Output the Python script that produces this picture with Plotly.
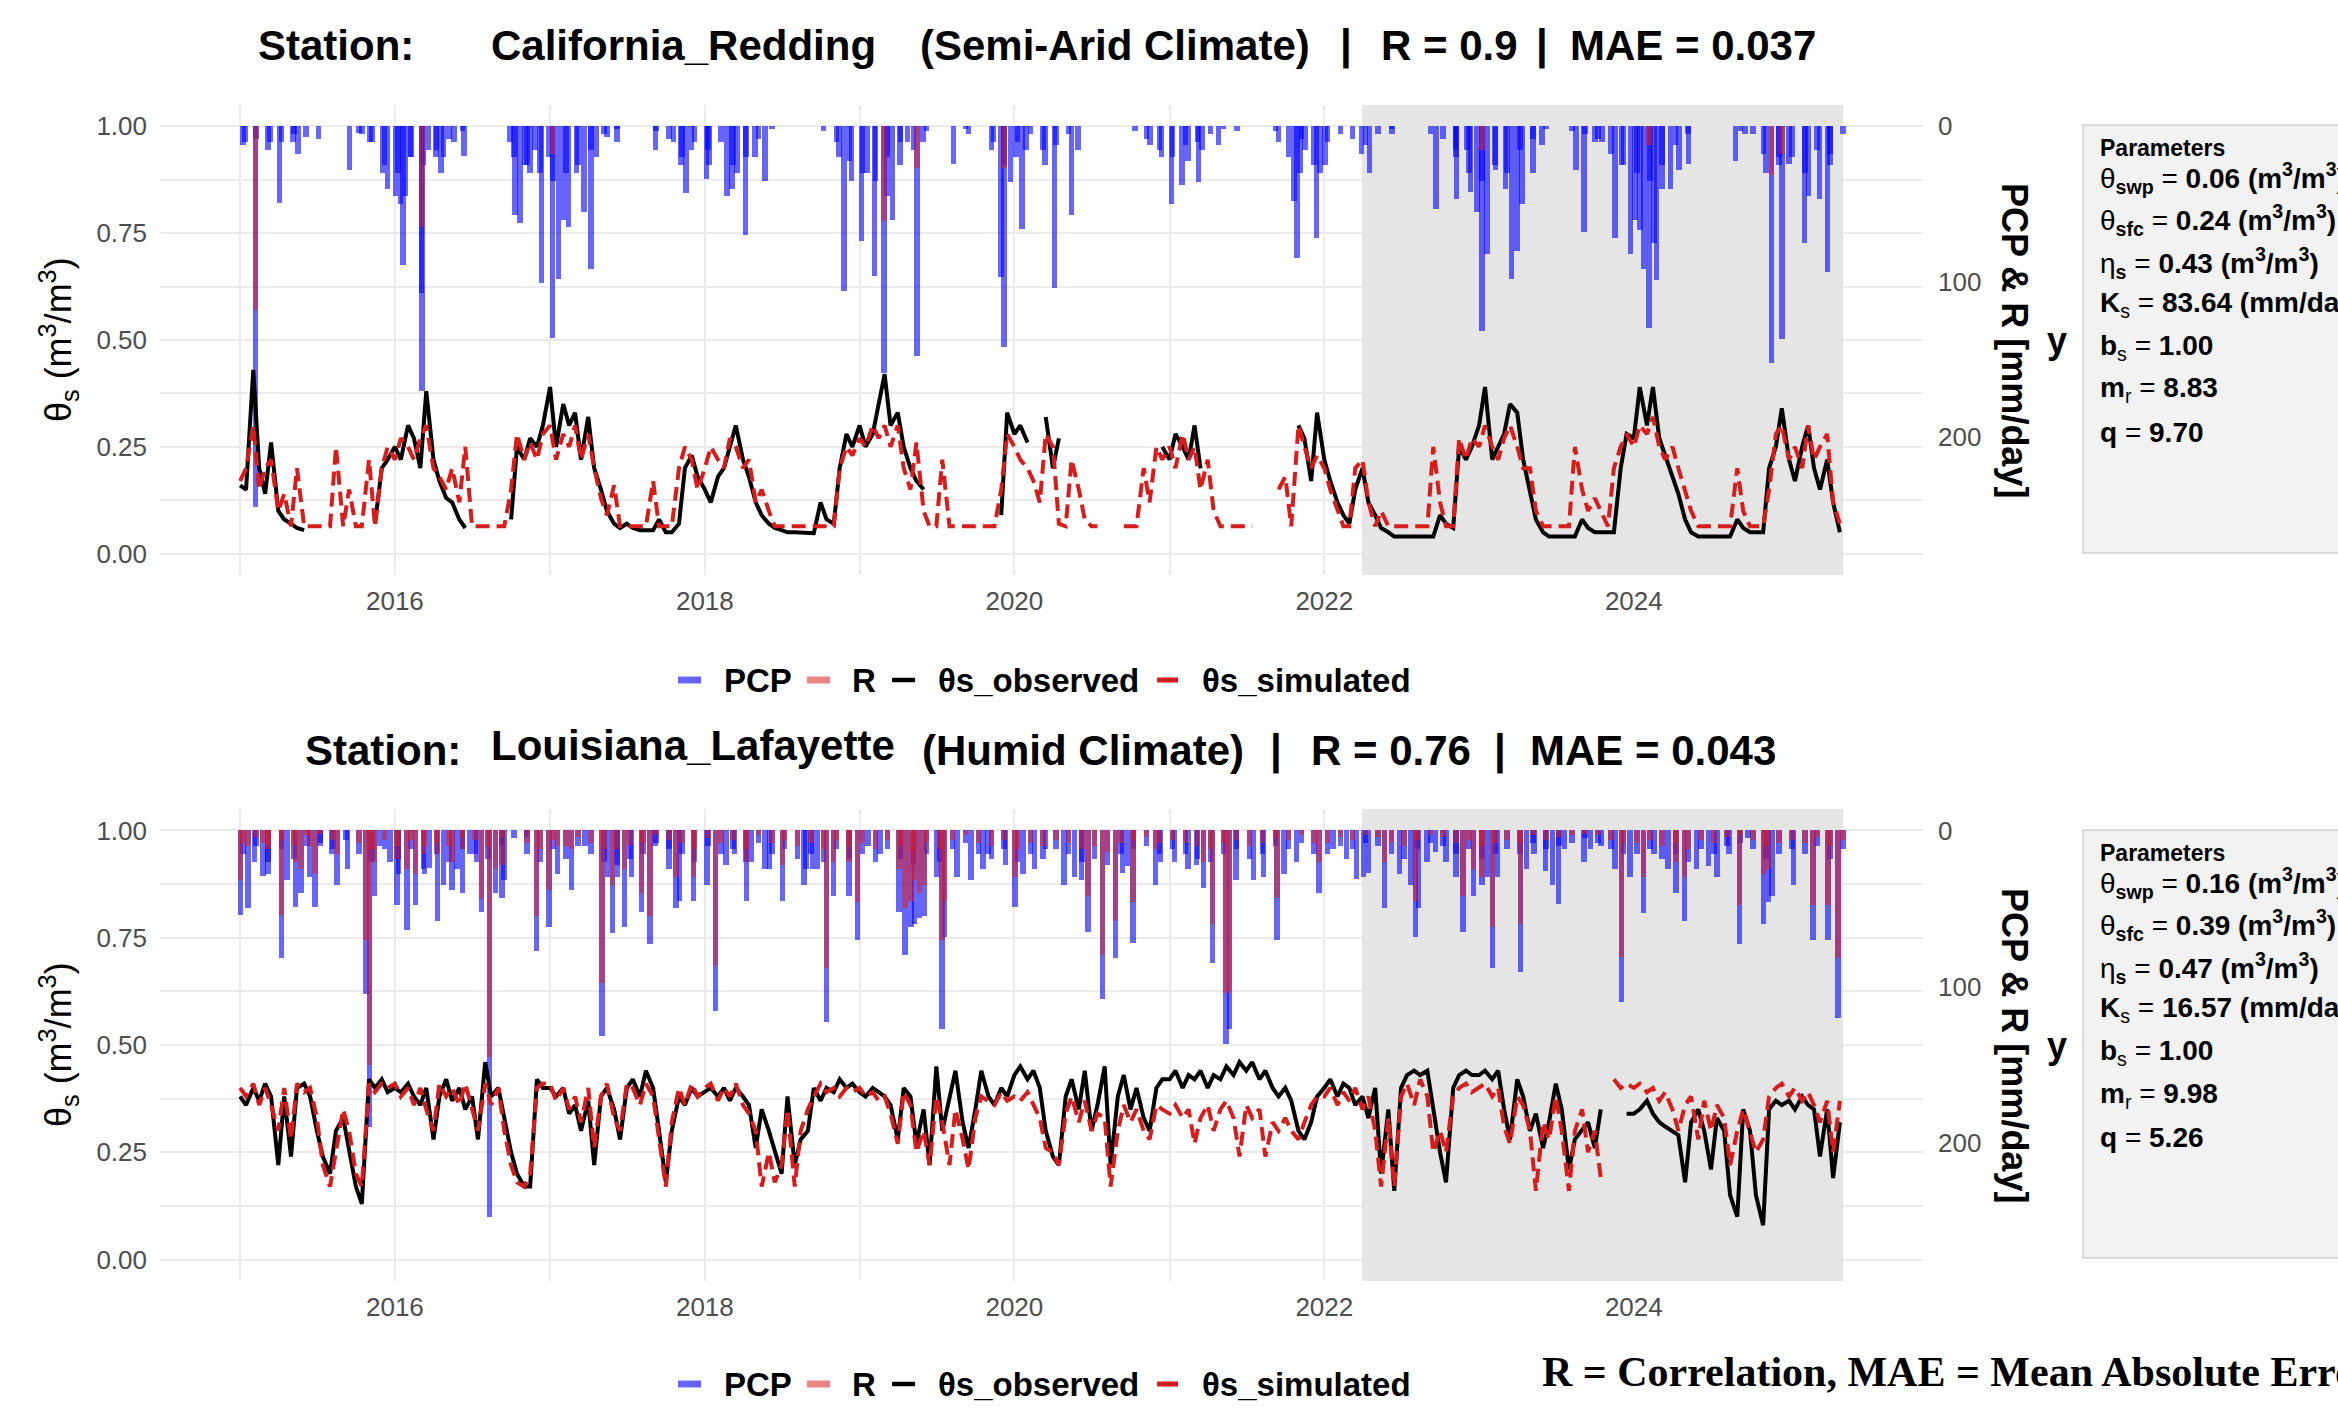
import pandas as pd
import plotly.graph_objects as go

N = None
W, H = 2338, 1412
SANS = "Liberation Sans, Arial, Helvetica, sans-serif"
SERIF = "Liberation Serif, Times New Roman, serif"

# ---------------------------------------------------------------- data
line_dates = pd.date_range("2015-01-01", "2025-05-01", freq="SMS")          # 1st & 15th of each month
small_dates = pd.date_range("2015-01-01", "2025-05-01", freq="MS") + pd.Timedelta(days=7)
data_start, data_end = "2015-01-01", "2025-05-08"
calib_start = "2022-04-01"

stations = ["California_Redding", "Louisiana_Lafayette"]
climates = ["(Semi-Arid Climate)", "(Humid Climate)"]
r_values = ["0.9", "0.76"]
mae_values = ["0.037", "0.043"]
legend_items = ["PCP", "R", "θs_observed", "θs_simulated"]

param_labels = ["θ<sub><b>swp</b></sub>", "θ<sub><b>sfc</b></sub>", "η<sub><b>s</b></sub>",
                "<b>K</b><sub>s</sub>", "<b>b</b><sub>s</sub>", "<b>m</b><sub>r</sub>", "<b>q</b>"]
param_units = [" (m<sup>3</sup>/m<sup>3</sup>)"] * 3 + [" (mm/day)", "", "", ""]
ca_params = ["0.06", "0.24", "0.43", "83.64", "1.00", "8.83", "9.70"]
la_params = ["0.16", "0.39", "0.47", "16.57", "1.00", "9.98", "5.26"]

# ---- California_Redding soil moisture (semi-monthly)
ca_obs = (
    [0.16, 0.15, 0.43, 0.20, 0.14, 0.26, 0.10, 0.08, 0.07, 0.06, 0.055, N, N, N, N, N, N, N, N, N, N, 0.07, 0.20, 0.22]
    + [0.25, 0.22, 0.30, 0.27, 0.20, 0.38, 0.22, 0.17, 0.13, 0.12, 0.08, 0.06, N, N, N, N, N, N, 0.08, 0.25, 0.22, 0.27, 0.25, 0.30]
    + [0.39, 0.25, 0.35, 0.30, 0.33, 0.22, 0.32, 0.20, 0.15, 0.10, 0.07, 0.06, 0.07, 0.06, 0.055, 0.055, 0.055, 0.08, 0.05, 0.05, 0.07, 0.20, 0.23, 0.18]
    + [0.15, 0.12, 0.18, 0.20, 0.25, 0.30, 0.22, 0.18, 0.12, 0.09, 0.07, 0.06, 0.055, 0.05, 0.05, 0.05, 0.048, 0.048, 0.12, 0.08, 0.07, 0.20, 0.28, 0.25]
    + [0.30, 0.25, 0.28, 0.35, 0.42, 0.30, 0.33, 0.25, 0.20, 0.17, 0.15, N, N, N, N, N, N, N, N, N, N, N, 0.09, 0.33]
    + [0.28, 0.30, 0.26, N, N, 0.32, 0.20, 0.27, N, N, N, N, N, N, N, N, N, N, N, N, N, N, N, 0.25]
    + [0.22, 0.28, 0.25, 0.22, 0.30, 0.20, N, N, N, N, N, N, N, N, N, N, N, N, N, N, 0.30, 0.27, 0.17, 0.33]
    + [0.22, 0.17, 0.12, 0.09, 0.07, 0.15, 0.20, 0.12, 0.09, 0.06, 0.05, 0.04, 0.04, 0.04, 0.04, 0.04, 0.04, 0.04, 0.09, 0.07, 0.06, 0.25, 0.22, 0.25]
    + [0.30, 0.39, 0.22, 0.25, 0.28, 0.35, 0.33, 0.22, 0.15, 0.08, 0.05, 0.04, 0.04, 0.04, 0.04, 0.04, 0.08, 0.06, 0.05, 0.05, 0.05, 0.05, 0.20, 0.28]
    + [0.27, 0.39, 0.30, 0.39, 0.27, 0.23, 0.18, 0.14, 0.08, 0.05, 0.04, 0.04, 0.04, 0.04, 0.04, 0.04, 0.08, 0.06, 0.05, 0.05, 0.05, 0.20, 0.25, 0.34]
    + [0.22, 0.17, 0.25, 0.30, 0.20, 0.15, 0.22, 0.12, 0.05]
)
ca_sim = (
    [0.17, 0.20, 0.30, 0.15, 0.20, 0.22, 0.10, 0.14, 0.064, 0.20, 0.064, 0.064, 0.064, 0.064, 0.064, 0.25, 0.064, 0.15, 0.064, 0.064, 0.22, 0.064, 0.20, 0.25]
    + [0.22, 0.27, 0.25, 0.22, 0.27, 0.30, 0.20, 0.18, 0.15, 0.20, 0.12, 0.25, 0.064, 0.064, 0.064, 0.064, 0.064, 0.064, 0.15, 0.28, 0.22, 0.26, 0.22, 0.28]
    + [0.30, 0.22, 0.28, 0.25, 0.30, 0.22, 0.28, 0.20, 0.13, 0.09, 0.16, 0.064, 0.064, 0.064, 0.064, 0.064, 0.17, 0.064, 0.064, 0.064, 0.20, 0.25, 0.22, 0.15]
    + [0.20, 0.25, 0.22, 0.20, 0.27, 0.25, 0.20, 0.22, 0.12, 0.15, 0.10, 0.064, 0.064, 0.064, 0.064, 0.064, 0.064, 0.064, 0.064, 0.064, 0.064, 0.20, 0.25, 0.23]
    + [0.27, 0.25, 0.30, 0.27, 0.30, 0.25, 0.30, 0.20, 0.15, 0.26, 0.10, 0.064, 0.064, 0.22, 0.064, 0.064, 0.064, 0.064, 0.064, 0.064, 0.064, 0.064, 0.15, 0.28]
    + [0.25, 0.22, 0.20, 0.17, 0.12, 0.28, 0.25, 0.07, 0.064, 0.22, 0.15, 0.08, 0.064, 0.064, N, N, N, 0.064, 0.064, 0.064, 0.20, 0.12, 0.25, 0.22]
    + [0.25, 0.20, 0.28, 0.22, 0.25, 0.15, 0.22, 0.10, 0.064, 0.064, 0.064, 0.064, 0.064, 0.064, N, N, N, 0.15, 0.18, 0.064, 0.30, 0.25, 0.20, 0.23]
    + [0.20, 0.15, 0.10, 0.064, 0.064, 0.20, 0.22, 0.12, 0.064, 0.10, 0.064, 0.064, 0.064, 0.064, 0.064, 0.064, 0.064, 0.25, 0.12, 0.064, 0.064, 0.27, 0.22, 0.27]
    + [0.25, 0.30, 0.25, 0.22, 0.27, 0.30, 0.25, 0.20, 0.20, 0.10, 0.064, 0.064, 0.064, 0.064, 0.064, 0.25, 0.15, 0.10, 0.13, 0.10, 0.064, 0.20, 0.25, 0.28]
    + [0.25, 0.30, 0.28, 0.32, 0.25, 0.22, 0.25, 0.20, 0.15, 0.10, 0.064, 0.064, 0.064, 0.064, 0.064, 0.064, 0.20, 0.10, 0.064, 0.064, 0.064, 0.15, 0.28, 0.30]
    + [0.22, 0.25, 0.20, 0.30, 0.22, 0.25, 0.28, 0.12, 0.07]
)

# ---- Louisiana_Lafayette soil moisture (semi-monthly)
la_obs = (
    [0.38, 0.36, 0.40, 0.37, 0.41, 0.38, 0.22, 0.38, 0.24, 0.40, 0.41, 0.38, 0.30, 0.24, 0.20, 0.30, 0.33, 0.25, 0.17, 0.13, 0.42, 0.40, 0.42, 0.39]
    + [0.40, 0.39, 0.41, 0.38, 0.36, 0.40, 0.28, 0.38, 0.42, 0.37, 0.40, 0.35, 0.38, 0.28, 0.46, 0.38, 0.40, 0.33, 0.25, 0.20, 0.17, 0.17, 0.42, 0.40]
    + [0.40, 0.38, 0.40, 0.34, 0.36, 0.30, 0.37, 0.22, 0.38, 0.40, 0.35, 0.28, 0.40, 0.42, 0.38, 0.44, 0.40, 0.30, 0.18, 0.30, 0.38, 0.36, 0.40, 0.38]
    + [0.39, 0.40, 0.38, 0.40, 0.37, 0.40, 0.38, 0.36, 0.26, 0.35, 0.30, 0.25, 0.20, 0.38, 0.22, 0.28, 0.30, 0.40, 0.37, 0.40, 0.39, 0.42, 0.40, 0.41]
    + [0.39, 0.38, 0.40, 0.39, 0.38, 0.36, 0.28, 0.40, 0.38, 0.27, 0.35, 0.22, 0.45, 0.30, 0.38, 0.44, 0.32, 0.26, 0.35, 0.44, 0.38, 0.36, 0.40, 0.38]
    + [0.43, 0.45, 0.42, 0.44, 0.40, 0.30, 0.24, 0.22, 0.38, 0.42, 0.35, 0.44, 0.30, 0.36, 0.45, 0.22, 0.38, 0.43, 0.35, 0.40, 0.33, 0.30, 0.40, 0.42]
    + [0.42, 0.44, 0.40, 0.43, 0.42, 0.44, 0.40, 0.43, 0.42, 0.45, 0.43, 0.46, 0.44, 0.46, 0.42, 0.44, 0.40, 0.38, 0.40, 0.37, 0.30, 0.28, 0.32, 0.38]
    + [0.40, 0.42, 0.38, 0.41, 0.40, 0.36, 0.38, 0.33, 0.40, 0.20, 0.35, 0.16, 0.40, 0.43, 0.44, 0.43, 0.44, 0.35, 0.25, 0.18, 0.40, 0.43, 0.44, 0.43]
    + [0.43, 0.44, 0.42, 0.44, 0.35, 0.28, 0.42, 0.38, 0.30, 0.34, 0.26, 0.32, 0.41, 0.35, 0.21, 0.28, 0.30, 0.32, 0.26, 0.35, N, N, N, 0.34]
    + [0.34, 0.35, 0.37, 0.34, 0.32, 0.31, 0.30, 0.29, 0.18, 0.32, 0.35, 0.30, 0.21, 0.33, 0.30, 0.15, 0.10, 0.35, 0.30, 0.15, 0.08, 0.35, 0.37, 0.36]
    + [0.37, 0.35, 0.38, 0.36, 0.35, 0.24, 0.35, 0.19, 0.32]
)
la_sim = (
    [0.40, 0.38, 0.41, 0.36, 0.40, 0.36, 0.30, 0.40, 0.28, 0.41, 0.39, 0.40, 0.33, 0.22, 0.17, 0.25, 0.35, 0.30, 0.20, 0.17, 0.41, 0.39, 0.41, 0.40]
    + [0.41, 0.38, 0.40, 0.36, 0.40, 0.35, 0.30, 0.41, 0.38, 0.40, 0.36, 0.41, 0.35, 0.30, 0.41, 0.36, 0.40, 0.30, 0.22, 0.18, 0.17, 0.20, 0.40, 0.41]
    + [0.41, 0.37, 0.40, 0.35, 0.38, 0.32, 0.40, 0.26, 0.38, 0.41, 0.33, 0.30, 0.41, 0.40, 0.36, 0.41, 0.38, 0.28, 0.17, 0.32, 0.40, 0.36, 0.41, 0.38]
    + [0.40, 0.41, 0.37, 0.40, 0.38, 0.41, 0.36, 0.34, 0.30, 0.17, 0.25, 0.18, 0.22, 0.35, 0.17, 0.30, 0.35, 0.38, 0.41, 0.39, 0.40, 0.38, 0.40, 0.39]
    + [0.40, 0.38, 0.39, 0.37, 0.38, 0.34, 0.27, 0.39, 0.36, 0.25, 0.30, 0.22, 0.38, 0.32, 0.22, 0.35, 0.28, 0.21, 0.33, 0.38, 0.37, 0.36, 0.39, 0.37]
    + [0.38, 0.37, 0.39, 0.36, 0.33, 0.26, 0.25, 0.22, 0.34, 0.38, 0.32, 0.37, 0.30, 0.34, 0.33, 0.17, 0.30, 0.36, 0.32, 0.35, 0.30, 0.28, 0.36, 0.35]
    + [0.34, 0.36, 0.33, 0.35, 0.27, 0.33, 0.36, 0.30, 0.35, 0.37, 0.33, 0.24, 0.36, 0.33, 0.35, 0.24, 0.32, 0.30, 0.33, 0.30, 0.28, 0.32, 0.36, 0.38]
    + [0.38, 0.40, 0.36, 0.39, 0.37, 0.40, 0.35, 0.38, 0.30, 0.17, 0.33, 0.17, 0.38, 0.41, 0.36, 0.42, 0.38, 0.25, 0.30, 0.25, 0.38, 0.40, 0.41, 0.39]
    + [0.40, 0.41, 0.38, 0.40, 0.31, 0.27, 0.38, 0.36, 0.30, 0.16, 0.32, 0.28, 0.38, 0.30, 0.16, 0.30, 0.35, 0.25, 0.30, 0.19, N, 0.42, 0.40, 0.41]
    + [0.40, 0.41, 0.39, 0.40, 0.37, 0.39, 0.35, 0.30, 0.36, 0.38, 0.28, 0.37, 0.30, 0.36, 0.33, 0.22, 0.30, 0.35, 0.30, 0.25, 0.28, 0.38, 0.40, 0.41]
    + [0.38, 0.40, 0.37, 0.39, 0.36, 0.32, 0.37, 0.25, 0.37]
)

# ---- California_Redding precipitation events [mm/day]
ca_pcp_dates = [
    "2015-01-13", "2015-02-06", "2015-03-13", "2015-04-04", "2015-05-06", "2015-05-18", "2015-06-05", "2015-07-05",
    "2015-09-16", "2015-10-16", "2015-11-03", "2015-12-03", "2015-12-15", "2016-01-02", "2016-01-14", "2016-01-20",
    "2016-01-26", "2016-02-07", "2016-03-04", "2016-03-05", "2016-03-20", "2016-04-07", "2016-04-19", "2016-04-25",
    "2016-05-19", "2016-06-12", "2016-09-28", "2016-10-10", "2016-10-22", "2016-11-03", "2016-11-15", "2016-11-27",
    "2016-12-12", "2016-12-28", "2017-01-07", "2017-01-21", "2017-02-02", "2017-02-14", "2017-03-04", "2017-03-22",
    "2017-04-07", "2017-04-21", "2017-05-15", "2017-06-08", "2017-09-07", "2017-10-19", "2017-11-06", "2017-11-18",
    "2017-11-30", "2018-01-05", "2018-01-11", "2018-02-22", "2018-03-06", "2018-03-18", "2018-04-07", "2018-04-29",
    "2018-05-23", "2018-11-13", "2018-11-25", "2018-12-13", "2019-01-06", "2019-01-18", "2019-02-05", "2019-02-27",
    "2019-03-07", "2019-03-19", "2019-04-06", "2019-04-24", "2019-05-16", "2019-05-30", "2019-08-10", "2019-09-15",
    "2019-11-13", "2019-12-01", "2019-12-07", "2019-12-23", "2020-01-05", "2020-01-19", "2020-01-28", "2020-03-13",
    "2020-04-05", "2020-05-15", "2020-05-30", "2020-10-11", "2020-11-16", "2020-12-13", "2021-01-06", "2021-01-30",
    "2021-02-14", "2021-03-10", "2021-03-18", "2021-04-27", "2021-06-09", "2021-09-15", "2021-10-21", "2021-10-28",
    "2021-11-05", "2021-11-17", "2021-12-14", "2021-12-22", "2022-01-03", "2022-03-30", "2022-04-18", "2022-06-10",
    "2022-09-21", "2022-11-06", "2022-11-09", "2022-12-03", "2022-12-12", "2022-12-27", "2023-01-08", "2023-01-20",
    "2023-02-09", "2023-03-04", "2023-03-18", "2023-03-31", "2023-04-12", "2023-05-08", "2023-05-30", "2023-08-18",
    "2023-09-05", "2023-10-02", "2023-10-18", "2023-11-18", "2023-12-03", "2023-12-24", "2024-01-04", "2024-01-16",
    "2024-01-24", "2024-02-06", "2024-02-17", "2024-02-24", "2024-03-08", "2024-03-27", "2024-04-16", "2024-05-09",
    "2024-08-28", "2024-09-19", "2024-11-02", "2024-11-21", "2024-12-08", "2024-12-16", "2025-01-01", "2025-02-06",
    "2025-02-16", "2025-03-14", "2025-04-02", "2025-04-08",
]
ca_pcp_mm = [
    10, 245, 10, 49, 10, 18, 7, 8,
    28, 5, 10, 30, 40, 45, 50, 89,
    45, 20, 107, 170, 15, 20, 30, 20,
    10, 19, 10, 57, 62, 25, 30, 15,
    101, 20, 136, 98, 60, 65, 30, 55,
    92, 20, 7, 10, 15, 10, 25, 43,
    15, 34, 25, 45, 40, 30, 70, 20,
    35, 20, 106, 35, 74, 30, 96, 159,
    45, 60, 25, 10, 148, 10, 24, 5,
    10, 97, 142, 36, 20, 66, 15, 25,
    104, 57, 15, 3, 12, 20, 50, 38,
    22, 36, 15, 12, 3, 10, 48, 85,
    30, 15, 72, 30, 25, 18, 30, 5,
    53, 15, 47, 15, 42, 55, 132, 82,
    28, 40, 98, 80, 50, 30, 12, 28,
    68, 10, 10, 72, 25, 82, 60, 67,
    92, 130, 75, 99, 40, 40, 28, 24,
    22, 5, 18, 152, 20, 137, 24, 75,
    45, 47, 94, 25,
]
ca_r_dates = ["2015-02-06", "2016-03-05", "2017-01-07", "2019-02-27", "2019-05-16", "2019-12-07",
              "2023-01-08", "2024-02-06", "2024-11-21", "2024-12-16"]
ca_r_mm = [118, 65, 18, 61, 27, 27, 15, 12, 31, 18]
ca_small_pcp = (
    [12, 8, 15, 10, 5, 0, 0, 0, 0, 4, 10, 25] + [30, 20, 25, 15, 8, 3, 0, 0, 0, 20, 25, 30]
    + [35, 30, 25, 15, 5, 2, 0, 0, 3, 8, 20, 10] + [15, 10, 25, 20, 8, 2, 0, 0, 0, 3, 10, 22]
    + [30, 35, 20, 10, 15, 3, 0, 0, 2, 0, 15, 25] + [10, 5, 15, 12, 5, 0, 0, 0, 0, 0, 8, 15]
    + [20, 12, 10, 5, 2, 0, 0, 0, 3, 20, 8, 25] + [10, 5, 8, 12, 5, 2, 0, 0, 5, 8, 20, 30]
    + [35, 25, 30, 15, 8, 2, 0, 3, 5, 8, 18, 25] + [30, 35, 25, 12, 5, 0, 0, 0, 3, 5, 30, 25]
    + [20, 30, 15, 18, 5]
)

# ---- Louisiana_Lafayette precipitation / runoff events [mm/day]
la_evt_dates = [
    "2015-01-02", "2015-01-20", "2015-02-04", "2015-02-24", "2015-03-08", "2015-04-08", "2015-04-22", "2015-05-12",
    "2015-05-24", "2015-06-14", "2015-06-27", "2015-07-08", "2015-08-05", "2015-08-17", "2015-09-11", "2015-10-25",
    "2015-11-02", "2015-11-14", "2015-11-26", "2015-12-20", "2016-01-06", "2016-01-10", "2016-01-30", "2016-02-19",
    "2016-03-11", "2016-03-23", "2016-04-10", "2016-04-25", "2016-05-15", "2016-05-27", "2016-06-09", "2016-06-25",
    "2016-07-11", "2016-07-23", "2016-08-11", "2016-08-25", "2016-09-10", "2016-09-14", "2016-11-06", "2016-11-30",
    "2016-12-29", "2017-01-18", "2017-02-20", "2017-03-24", "2017-05-04", "2017-05-16", "2017-05-28", "2017-06-09",
    "2017-06-25", "2017-07-12", "2017-08-05", "2017-08-25", "2017-09-06", "2017-10-09", "2017-10-25", "2017-11-02",
    "2017-12-05", "2018-01-06", "2018-01-26", "2018-02-20", "2018-03-12", "2018-04-09", "2018-04-21", "2018-05-23",
    "2018-06-03", "2018-07-03", "2018-08-23", "2018-08-27", "2018-09-12", "2018-09-24", "2018-10-15", "2018-10-31",
    "2018-12-07", "2018-12-27", "2019-01-21", "2019-02-18", "2019-04-04", "2019-04-18", "2019-05-02", "2019-05-10",
    "2019-05-22", "2019-06-03", "2019-07-02", "2019-07-14", "2019-07-20", "2019-08-19", "2019-09-21", "2019-10-19",
    "2019-10-31", "2019-12-11", "2020-01-03", "2020-01-21", "2020-02-18", "2020-03-14", "2020-04-27", "2020-05-22",
    "2020-06-07", "2020-06-23", "2020-07-27", "2020-08-27", "2020-09-12", "2020-09-24", "2020-10-07", "2020-11-29",
    "2020-12-11", "2021-01-13", "2021-02-14", "2021-03-06", "2021-03-22", "2021-04-12", "2021-05-14", "2021-05-22",
    "2021-06-07", "2021-07-18", "2021-08-11", "2021-09-12", "2021-09-28", "2021-10-27", "2021-12-20", "2022-01-21",
    "2022-02-22", "2022-03-18", "2022-04-03", "2022-04-15", "2022-05-23", "2022-06-27", "2022-07-25", "2022-08-04",
    "2022-08-11", "2022-08-31", "2022-09-20", "2022-10-15", "2022-11-08", "2022-11-24", "2022-12-19", "2023-01-08",
    "2023-01-21", "2023-02-02", "2023-02-14", "2023-04-09", "2023-04-23", "2023-05-10", "2023-06-07", "2023-06-23",
    "2023-07-07", "2023-07-22", "2023-09-05", "2023-09-21", "2023-10-15", "2023-11-17", "2023-12-03", "2023-12-23",
    "2024-01-24", "2024-02-17", "2024-03-21", "2024-04-10", "2024-04-30", "2024-05-28", "2024-06-25", "2024-07-15",
    "2024-08-12", "2024-09-06", "2024-09-26", "2024-11-02", "2024-11-14", "2024-11-22", "2025-01-12", "2025-02-27",
    "2025-04-03", "2025-04-27",
]
la_evt_pcp = [
    54, 50, 20, 29, 28, 82, 32, 49,
    40, 30, 49, 10, 15, 35, 25, 105,
    190, 42, 10, 20, 48, 28, 64, 48,
    28, 24, 58, 35, 38, 25, 40, 15,
    20, 52, 248, 40, 43, 32, 4, 77,
    62, 28, 38, 10, 132, 30, 66, 30,
    62, 30, 52, 73, 10, 25, 50, 45,
    45, 35, 116, 22, 15, 45, 20, 25,
    25, 45, 35, 25, 25, 25, 123, 42,
    42, 70, 10, 15, 52, 80, 62, 60,
    56, 55, 30, 127, 68, 30, 32, 25,
    15, 22, 49, 28, 25, 12, 35, 30,
    32, 65, 108, 82, 27, 23, 72, 35,
    20, 20, 25, 22, 37, 85, 137, 127,
    32, 32, 30, 70, 28, 20, 40, 12,
    18, 31, 30, 27, 50, 28, 35, 68,
    50, 20, 14, 20, 30, 65, 42, 35,
    30, 88, 30, 91, 25, 15, 26, 35,
    47, 12, 20, 12, 10, 25, 110, 30,
    53, 15, 25, 40, 58, 25, 23, 30,
    15, 73, 5, 60, 46, 42, 35, 70,
    70, 120,
]
la_evt_r = [
    32, 10, 0, 8, 12, 54, 0, 20,
    25, 10, 28, 0, 0, 15, 0, 70,
    150, 20, 0, 0, 18, 0, 25, 28,
    10, 0, 15, 0, 20, 0, 12, 0,
    0, 44, 145, 25, 22, 0, 0, 55,
    38, 10, 12, 0, 98, 0, 35, 0,
    25, 0, 40, 55, 0, 0, 30, 0,
    30, 0, 86, 0, 0, 20, 0, 0,
    0, 22, 0, 0, 0, 0, 88, 20,
    20, 46, 0, 0, 25, 50, 45, 32,
    40, 35, 0, 70, 45, 0, 0, 0,
    0, 0, 30, 0, 0, 0, 0, 0,
    0, 42, 80, 58, 0, 0, 46, 12,
    0, 0, 0, 0, 20, 60, 104, 103,
    0, 0, 0, 43, 0, 0, 20, 0,
    0, 0, 0, 0, 20, 0, 0, 45,
    0, 0, 0, 0, 0, 42, 25, 30,
    0, 62, 0, 60, 0, 0, 0, 0,
    0, 0, 0, 0, 0, 0, 81, 0,
    30, 0, 0, 20, 30, 0, 0, 0,
    0, 48, 0, 28, 25, 0, 0, 48,
    48, 82,
]
la_small_pcp = (
    [15, 10, 20, 12, 18, 10, 8, 12, 6, 15, 20, 12] + [18, 12, 25, 15, 20, 12, 15, 18, 10, 5, 15, 20]
    + [12, 18, 10, 15, 20, 22, 18, 15, 8, 12, 15, 20] + [10, 15, 12, 20, 8, 15, 12, 18, 15, 20, 12, 18]
    + [15, 20, 12, 18, 22, 15, 20, 12, 8, 15, 18, 12] + [20, 15, 18, 12, 15, 20, 18, 22, 15, 12, 10, 15]
    + [12, 15, 18, 20, 15, 12, 18, 15, 10, 12, 8, 15] + [15, 10, 12, 8, 10, 15, 18, 12, 8, 10, 15, 12]
    + [18, 15, 12, 15, 8, 12, 10, 8, 5, 8, 12, 15] + [15, 12, 18, 15, 20, 12, 15, 10, 8, 12, 18, 15]
    + [12, 15, 10, 18, 12]
)
la_small_r = (
    [8, 4, 10, 6, 9, 3, 2, 6, 0, 8, 12, 6] + [10, 6, 15, 8, 10, 5, 6, 10, 4, 0, 8, 12]
    + [6, 10, 4, 8, 12, 12, 9, 8, 3, 6, 8, 12] + [5, 8, 6, 12, 3, 8, 6, 10, 8, 12, 6, 10]
    + [8, 12, 6, 10, 14, 8, 12, 6, 3, 8, 10, 6] + [12, 8, 10, 6, 8, 12, 10, 14, 8, 6, 4, 8]
    + [6, 8, 10, 12, 8, 6, 10, 8, 4, 6, 3, 8] + [8, 4, 6, 3, 4, 8, 10, 6, 3, 4, 8, 6]
    + [10, 8, 6, 8, 3, 6, 4, 3, 2, 3, 6, 8] + [8, 6, 10, 8, 12, 6, 8, 4, 3, 6, 10, 8]
    + [6, 8, 4, 10, 6]
)

for nm, arr, n in [("ca_obs", ca_obs, len(line_dates)), ("ca_sim", ca_sim, len(line_dates)),
                   ("la_obs", la_obs, len(line_dates)), ("la_sim", la_sim, len(line_dates)),
                   ("ca_pcp", ca_pcp_mm, len(ca_pcp_dates)), ("ca_small", ca_small_pcp, len(small_dates)),
                   ("la_pcp", la_evt_pcp, len(la_evt_dates)), ("la_r", la_evt_r, len(la_evt_dates)),
                   ("la_small", la_small_pcp, len(small_dates)), ("la_small_r", la_small_r, len(small_dates))]:
    if len(arr) != n:
        raise ValueError(f"{nm}: {len(arr)} != {n}")

# ---------------------------------------------------------------- styling / layout helpers
def px(x):
    return x / W


def py(y):
    return 1 - y / H


PCP_SCALE = 275.0                      # theta = 1 - PCP / 275
PCP_RANGE = [(1 + 0.05) * PCP_SCALE, -0.05 * PCP_SCALE]
XDOM = [px(160), px(1923)]
YDOMS = [[py(575), py(105)], [py(1281), py(809)]]
t0, t1 = pd.Timestamp(data_start), pd.Timestamp(data_end)
pad = (t1 - t0) * 0.05
XRANGE = [t0 - pad, t1 + pad]
cs = pd.Timestamp(calib_start)
BAR_W = 13 * 86400000
PCP_COLOR = "rgba(0,0,255,1)"
R_COLOR = "rgba(221,34,34,1)"
OBS_COLOR = "black"
SIM_COLOR = "#d81c1c"
GRID = "#ebebeb"
TICKFONT = dict(family=SANS, size=26, color="#4d4d4d")

fig = go.Figure()

panels = [
    dict(pdates=ca_pcp_dates + list(small_dates), pvals=ca_pcp_mm + ca_small_pcp,
         rdates=ca_r_dates, rvals=ca_r_mm, obs=ca_obs, sim=ca_sim),
    dict(pdates=la_evt_dates + list(small_dates), pvals=la_evt_pcp + la_small_pcp,
         rdates=la_evt_dates + list(small_dates), rvals=la_evt_r + la_small_r, obs=la_obs, sim=la_sim),
]

for i, p in enumerate(panels):
    xa = "x" if i == 0 else "x2"
    ya_p = "y" if i == 0 else "y3"      # precipitation axis (primary, right)
    ya_t = "y2" if i == 0 else "y4"     # soil-moisture axis (overlay, left)
    # grey validation-period band, spanning the full panel height
    fig.add_trace(go.Bar(x=[cs + (t1 - cs) / 2], y=[PCP_RANGE[0] - PCP_RANGE[1]], base=[PCP_RANGE[1]],
                         width=[(t1 - cs).total_seconds() * 1000], xaxis=xa, yaxis=ya_p,
                         marker=dict(color="#e5e5e5", line=dict(width=0)), showlegend=False,
                         hoverinfo="skip"))
    fig.add_trace(go.Bar(x=p["pdates"], y=p["pvals"], width=BAR_W, xaxis=xa, yaxis=ya_p,
                         marker=dict(color=PCP_COLOR, opacity=0.6, line=dict(width=0)),
                         showlegend=False, name="PCP"))
    fig.add_trace(go.Bar(x=p["rdates"], y=p["rvals"], width=BAR_W, xaxis=xa, yaxis=ya_p,
                         marker=dict(color=R_COLOR, opacity=0.55, line=dict(width=0)),
                         showlegend=False, name="R"))
    fig.add_trace(go.Scatter(x=line_dates, y=p["obs"], mode="lines", xaxis=xa, yaxis=ya_t,
                             line=dict(color=OBS_COLOR, width=4), showlegend=False, name="θs_observed"))
    fig.add_trace(go.Scatter(x=line_dates, y=p["sim"], mode="lines", xaxis=xa, yaxis=ya_t,
                             line=dict(color=SIM_COLOR, width=4, dash="14px,7px"),
                             showlegend=False, name="θs_simulated"))

xaxis_common = dict(type="date", range=XRANGE, domain=XDOM, dtick="M24", tick0="2016-01-01",
                    tickformat="%Y", showgrid=True, gridcolor=GRID, gridwidth=2, zeroline=False,
                    showline=False, ticks="", tickfont=TICKFONT, ticklabelstandoff=8,
                    minor=dict(dtick="M12", tick0="2015-01-01", showgrid=True, gridcolor=GRID, gridwidth=1.6))
pcp_common = dict(side="right", range=PCP_RANGE, tickvals=[0, 100, 200],
                  showgrid=False, zeroline=False, showline=False, ticks="", tickfont=TICKFONT,
                  ticklabelstandoff=14)
theta_common = dict(side="left", range=[-0.05, 1.05], tickvals=[0, 0.25, 0.5, 0.75, 1.0], tickformat=".2f",
                    showgrid=True, gridcolor=GRID, gridwidth=2, zeroline=False, showline=False, ticks="",
                    tickfont=TICKFONT, ticklabelstandoff=12,
                    minor=dict(tickvals=[0.125, 0.375, 0.625, 0.875], showgrid=True, gridcolor=GRID,
                               gridwidth=1.6))

fig.update_layout(
    width=W, height=H, autosize=False,
    margin=dict(l=0, r=0, t=0, b=0, pad=0),
    paper_bgcolor="white", plot_bgcolor="white",
    barmode="overlay", bargap=0,
    font=dict(family=SANS, color="black"),
    xaxis=dict(anchor="y", **xaxis_common),
    xaxis2=dict(anchor="y3", **xaxis_common),
    yaxis=dict(anchor="x", domain=YDOMS[0], **pcp_common),
    yaxis2=dict(anchor="x", overlaying="y", **theta_common),
    yaxis3=dict(anchor="x2", domain=YDOMS[1], **pcp_common),
    yaxis4=dict(anchor="x2", overlaying="y3", **theta_common),
    showlegend=False,
)

shapes = []
annotations = []


def text(t, x, y, size, xanchor="left", family=SANS, angle=0):
    annotations.append(dict(text=t, x=px(x), y=py(y), xref="paper", yref="paper", showarrow=False,
                            xanchor=xanchor, yanchor="middle", textangle=angle,
                            font=dict(family=family, size=size, color="black")))


# titles
title_layout = [
    dict(y=45, xs=[256, 489, 918, 1346, 1379, 1542, 1568], ny=45),
    dict(y=750, xs=[303, 489, 920, 1276, 1309, 1500, 1528], ny=745),
]
for i, tl in enumerate(title_layout):
    xs = tl["xs"]
    text("<b>Station:</b>", xs[0], tl["y"], 42)
    text(f"<b>{stations[i]}</b>", xs[1], tl["ny"], 42)
    text(f"<b>{climates[i]}</b>", xs[2], tl["y"], 42)
    text("<b>|</b>", xs[3], tl["y"], 42, xanchor="center")
    text(f"<b>R = {r_values[i]}</b>", xs[4], tl["y"], 42)
    text("<b>|</b>", xs[5], tl["y"], 42, xanchor="center")
    text(f"<b>MAE = {mae_values[i]}</b>", xs[6], tl["y"], 42)

# legends (drawn per panel, ggplot style: short line key + bold label)
legend_keys = [
    dict(x0=678, x1=701, tx=722, color="rgba(0,0,255,0.6)", width=7),
    dict(x0=807, x1=830, tx=850, color="rgba(221,34,34,0.55)", width=7),
    dict(x0=892, x1=915, tx=936, color=OBS_COLOR, width=4.5),
    dict(x0=1157, x1=1178, tx=1200, color=SIM_COLOR, width=5),
]
for ly in [680, 1384]:
    for key, label in zip(legend_keys, legend_items):
        shapes.append(dict(type="line", xref="paper", yref="paper", x0=px(key["x0"]), x1=px(key["x1"]),
                           y0=py(ly), y1=py(ly), line=dict(color=key["color"], width=key["width"])))
        text(f"<b>{label}</b>", key["tx"], ly, 33)

# axis titles, parameter boxes
for i, off in enumerate([0, 705]):
    text("θ<sub>s</sub> (m<sup>3</sup>/m<sup>3</sup>)", 58, 340 + off, 36, xanchor="center", angle=-90)
    text("<b>PCP & R [mm/day]</b>", 2015, 340 + off, 36, xanchor="center", angle=90)
    text("<b>y</b>", 2057, 340 + off, 36, xanchor="center")
    shapes.append(dict(type="rect", xref="paper", yref="paper", x0=px(2083), x1=px(2360),
                       y0=py(553 + off), y1=py(125 + off), fillcolor="#f2f2f2",
                       line=dict(color="#d4d4d4", width=1.5)))
    text("<b>Parameters</b>", 2098, 148 + off, 23)
    vals = ca_params if i == 0 else la_params
    line_y = [178, 220, 263, 304, 347, 390, 432]
    for lab, val, unit, yy in zip(param_labels, vals, param_units, line_y):
        text(f"{lab} = <b>{val}{unit}</b>", 2098, yy + off, 28)

text("<b>R = Correlation, MAE = Mean Absolute Error</b>", 1540, 1372, 42, family=SERIF)

fig.update_layout(shapes=shapes, annotations=annotations)
fig.write_html("out.html")
